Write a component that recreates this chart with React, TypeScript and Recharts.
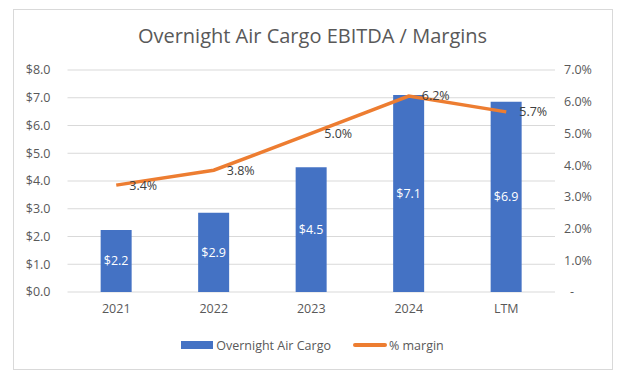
import React from 'react';
import {
  ComposedChart,
  Bar,
  Line,
  XAxis,
  YAxis,
  CartesianGrid,
  Legend,
  LabelList,
} from 'recharts';

const periods = ['2021', '2022', '2023', '2024', 'LTM'];
const ebitda = [2.23, 2.86, 4.5, 7.1, 6.86];
const margin = [3.37, 3.84, 5.0, 6.18, 5.68];
const leftTicks = [0, 1, 2, 3, 4, 5, 6, 7, 8];
const rightTicks = [0, 1, 2, 3, 4, 5, 6, 7];

const data = periods.map((p, i) => ({ period: p, ebitda: ebitda[i], margin: margin[i] }));

const FONT = '"Open Sans", sans-serif';
const FS = 12.5;
const AXIS_COLOR = '#595959';
const BLUE = '#4472C4';
const ORANGE = '#ED7D31';

const RightTick = (props: any) => {
  const { x, y, payload } = props;
  const v = payload.value as number;
  const label = v === 0 ? '-' : `${v.toFixed(1)}%`;
  return (
    <text
      x={v === 0 ? x + 6 : x}
      y={y}
      dy="0.35em"
      textAnchor="start"
      fill={AXIS_COLOR}
      fontSize={FS}
      fontFamily={FONT}
    >
      {label}
    </text>
  );
};

const LegendContent = () => (
  <div
    style={{
      display: 'flex',
      justifyContent: 'center',
      alignItems: 'center',
      fontFamily: FONT,
      fontSize: FS,
      color: AXIS_COLOR,
      height: 20,
    }}
  >
    <span style={{ width: 32, height: 8, background: BLUE, marginRight: 3 }} />
    <span style={{ marginRight: 22 }}>Overnight Air Cargo</span>
    <span style={{ width: 34, height: 3.5, background: ORANGE, borderRadius: 2, marginRight: 2 }} />
    <span>% margin</span>
  </div>
);

export default function App() {
  return (
    <div style={{ position: 'absolute', left: 0, top: 0, width: 636, height: 378, background: '#fff' }}>
      <div
        style={{
          position: 'absolute',
          left: 13,
          top: 9,
          width: 598,
          height: 359,
          border: '1px solid #d9d9d9',
        }}
      />
      <div
        style={{
          position: 'absolute',
          left: 0,
          top: 22,
          width: 625,
          textAlign: 'center',
          fontFamily: FONT,
          fontSize: 20,
          color: AXIS_COLOR,
        }}
      >
        Overnight Air Cargo EBITDA / Margins
      </div>
      <ComposedChart
        width={636}
        height={378}
        data={data}
        margin={{ top: 70, right: 21, left: 0, bottom: 36 }}
        barCategoryGap="34%"
        style={{ position: 'absolute', left: 0, top: 0 }}
      >
        <CartesianGrid yAxisId="left" vertical={false} stroke="#d9d9d9" />
        <XAxis
          dataKey="period"
          axisLine={false}
          tickLine={false}
          tickSize={0}
          tickMargin={12}
          tick={{ fill: AXIS_COLOR, fontSize: FS, fontFamily: FONT }}
        />
        <YAxis
          yAxisId="left"
          domain={[0, 8]}
          ticks={leftTicks}
          width={67.5}
          axisLine={false}
          tickLine={false}
          tickSize={0}
          tickMargin={17}
          tickFormatter={(v: number) => `$${v.toFixed(1)}`}
          tick={{ fill: AXIS_COLOR, fontSize: FS, fontFamily: FONT }}
        />
        <YAxis
          yAxisId="right"
          orientation="right"
          domain={[0, 7]}
          ticks={rightTicks}
          width={60}
          axisLine={false}
          tickLine={false}
          tickSize={0}
          tickMargin={9}
          tick={<RightTick />}
        />
        <Legend verticalAlign="bottom" content={<LegendContent />} wrapperStyle={{ top: 335, left: 0, width: 625 }} />
        <Bar yAxisId="left" dataKey="ebitda" name="Overnight Air Cargo" fill={BLUE} isAnimationActive={false}>
          <LabelList
            dataKey="ebitda"
            position="center"
            fill="#fff"
            fontSize={FS}
            fontFamily={FONT}
            formatter={(v: any) => `$${Number(v).toFixed(1)}`}
          />
        </Bar>
        <Line
          yAxisId="right"
          dataKey="margin"
          name="% margin"
          stroke={ORANGE}
          strokeWidth={3.5}
          dot={false}
          isAnimationActive={false}
        >
          <LabelList
            dataKey="margin"
            position="right"
            offset={13}
            fill="#404040"
            fontSize={FS}
            fontFamily={FONT}
            formatter={(v: any) => `${Number(v).toFixed(1)}%`}
          />
        </Line>
      </ComposedChart>
    </div>
  );
}
